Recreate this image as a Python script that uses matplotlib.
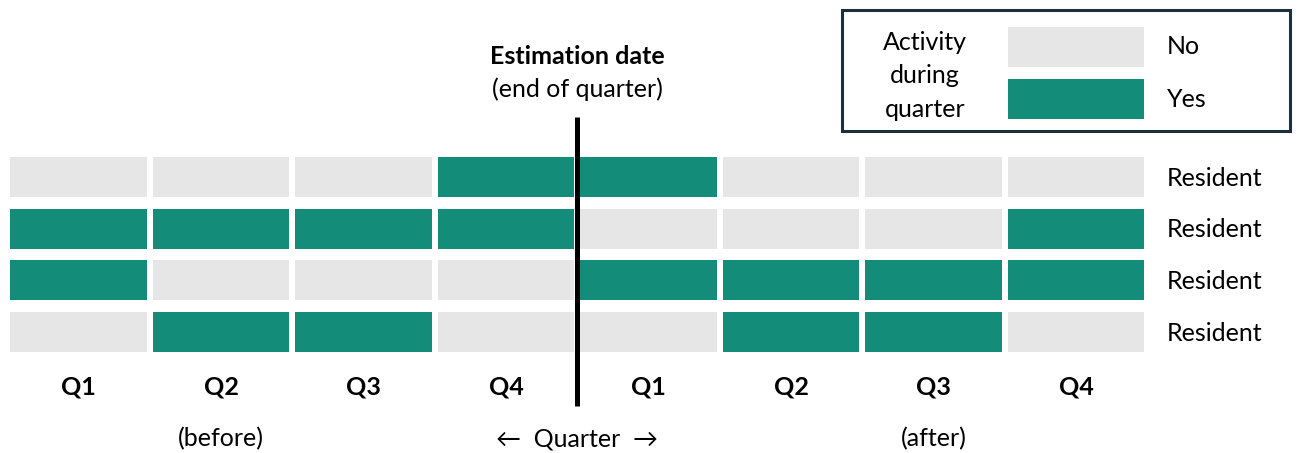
import numpy as np
import matplotlib.pyplot as plt
from matplotlib.patches import Rectangle

plt.rcParams['font.family'] = ['Lato', 'DejaVu Sans']

quarters = ['Q1', 'Q2', 'Q3', 'Q4', 'Q1', 'Q2', 'Q3', 'Q4']
row_labels = ['Resident', 'Resident', 'Resident', 'Resident']
activity = [
    [0, 0, 0, 1, 1, 0, 0, 0],
    [1, 1, 1, 1, 0, 0, 0, 1],
    [1, 0, 0, 0, 1, 1, 1, 1],
    [0, 1, 1, 0, 0, 1, 1, 0],
]
legend_labels = ['No', 'Yes']

teal = '#138c7a'
grey = '#e6e6e6'
colors = [grey, teal]
fs = 18

fig = plt.figure(figsize=(12.98, 4.53), dpi=100)
ax = fig.add_axes([0, 0, 1, 1])
ax.set_xlim(-0.551, 8.558)
ax.set_ylim(5.338, -3.424)
ax.axis('off')

cols = np.arange(len(quarters))
bw, bh = 0.961, 0.774
for r, row in enumerate(activity):
    ax.barh([r] * len(cols), [bw] * len(cols), left=cols - bw / 2, height=bh,
            color=[colors[v] for v in row], edgecolor='none')
    ax.text(7.64, r + 0.02, row_labels[r], ha='left', va='center', fontsize=fs)

for c, q in enumerate(quarters):
    ax.text(c, 4.06, q, ha='center', va='center', fontsize=fs, fontweight='bold')

ax.text(1, 5.06, '(before)', ha='center', va='center', fontsize=fs)
ax.text(6, 5.06, '(after)', ha='center', va='center', fontsize=fs)
ax.text(3.5, 5.06, '\u2190  Quarter  \u2192', ha='center', va='center', fontsize=fs)

# estimation date marker
ax.plot([3.5, 3.5], [-1.16, 4.43], color='black', lw=3.6, solid_capstyle='butt')
ax.text(3.5, -2.33, 'Estimation date', ha='center', va='center', fontsize=fs, fontweight='bold')
ax.text(3.5, -1.7, '(end of quarter)', ha='center', va='center', fontsize=fs)

# legend box
ax.add_patch(Rectangle((5.358, -3.23), 3.144, 2.34, fill=False,
                       edgecolor='#1b2f3d', lw=2.2))
ax.text(5.94, -1.96, 'Activity\nduring\nquarter', ha='center', va='center',
        fontsize=fs, linespacing=1.55)
for i, lab in enumerate(legend_labels):
    y = -2.515 + i * 1.006
    ax.barh(y, bw, left=7 - bw / 2, height=bh, color=colors[i], edgecolor='none')
    ax.text(7.64, y, lab, ha='left', va='center', fontsize=fs)

fig.savefig('out.png', dpi=100)
